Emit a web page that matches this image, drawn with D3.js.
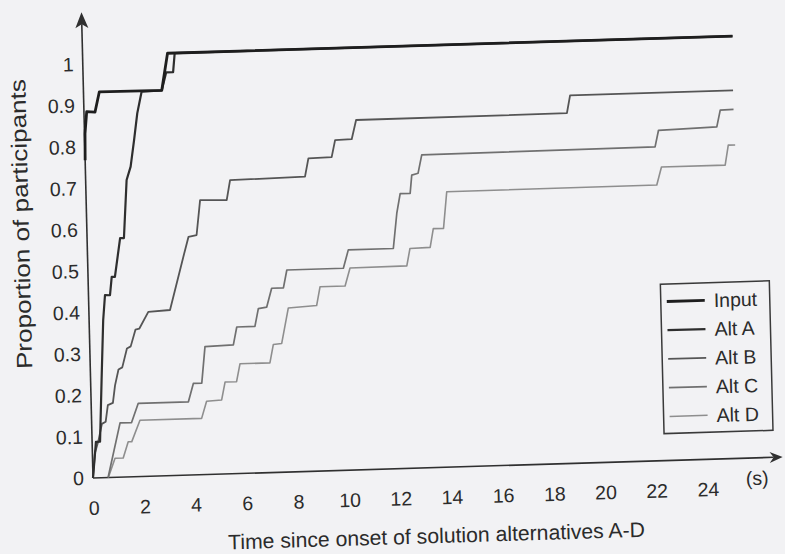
<!DOCTYPE html>
<html><head><meta charset="utf-8">
<script src="https://cdn.jsdelivr.net/npm/d3@7"></script>
<style>
html,body{margin:0;padding:0;background:#f2f2f4;}
svg{display:block;}
text{font-family:"Liberation Sans",Arial,Helvetica,sans-serif;fill:#2b2b2b;}
</style></head><body>
<svg id="c" width="785" height="554"></svg>
<script>
// ---- data (time in s, proportion of participants) ----
const xTicks = [0,2,4,6,8,10,12,14,16,18,20,22,24];
const yTicks = [0,0.1,0.2,0.3,0.4,0.5,0.6,0.7,0.8,0.9,1];
const yTickLabels = ["0","0.1","0.2","0.3","0.4","0.5","0.6","0.7","0.8","0.9","1"];
const seriesNames = ["Input","Alt A","Alt B","Alt C","Alt D"];

const inputData = [[0,0.768],[0.02,0.832],[0.107,0.885],[0.43,0.883],[0.62,0.932],[3.06,0.931],[3.32,1.02],[25.4,1.02]];
const altAData = [[0,0],[0.15,0.087],[0.31,0.087],[0.43,0.236],[0.55,0.38],[0.645,0.441],[0.84,0.44],[0.925,0.484],[1.05,0.484],[1.29,0.577],[1.44,0.577],[1.6,0.717],[1.77,0.749],[1.93,0.813],[2.08,0.877],[2.27,0.929],[3.06,0.931],[3.25,0.974],[3.52,0.974],[3.6,1.02],[25.4,1.02]];
const altBData = [[0,0],[0.1,0.06],[0.25,0.09],[0.4,0.13],[0.55,0.135],[0.65,0.175],[0.85,0.18],[0.95,0.222],[1.1,0.26],[1.25,0.265],[1.45,0.31],[1.6,0.315],[1.8,0.355],[1.95,0.357],[2.32,0.397],[3.17,0.4],[3.74,0.527],[3.96,0.575],[4.28,0.579],[4.45,0.663],[5.49,0.661],[5.64,0.709],[8.57,0.712],[8.72,0.756],[9.63,0.757],[9.78,0.798],[10.43,0.799],[10.62,0.845],[18.86,0.846],[19.0,0.889],[25.37,0.889]];
const altCData = [[0.59,0],[1.11,0.131],[1.56,0.131],[1.84,0.177],[3.8,0.177],[4.01,0.221],[4.34,0.221],[4.5,0.309],[5.61,0.311],[5.76,0.354],[6.47,0.354],[6.62,0.397],[6.95,0.4],[7.16,0.445],[7.62,0.445],[7.77,0.488],[9.98,0.488],[10.19,0.532],[11.95,0.532],[12.12,0.617],[12.27,0.664],[12.66,0.664],[12.74,0.708],[12.99,0.712],[13.15,0.756],[22.27,0.758],[22.42,0.798],[24.7,0.802],[24.85,0.842],[25.37,0.843]];
const altDData = [[0.6,0],[0.88,0.046],[1.2,0.046],[1.41,0.085],[1.55,0.085],[1.89,0.136],[4.3,0.136],[4.51,0.177],[5.1,0.179],[5.25,0.222],[5.7,0.222],[5.85,0.265],[7.02,0.265],[7.17,0.309],[7.5,0.311],[7.79,0.396],[8.9,0.4],[9.05,0.445],[10.03,0.445],[10.24,0.488],[12.46,0.489],[12.6,0.531],[13.39,0.532],[13.53,0.577],[13.93,0.577],[14.09,0.665],[22.3,0.666],[22.5,0.709],[24.99,0.709],[25.13,0.757],[25.4,0.757]];

const seriesData = [inputData, altAData, altBData, altCData, altDData];
const seriesColor = ["#1e1e1e","#2e2e2e","#555555","#707070","#8e8e8e"];
const seriesWidth = [2.8,2.2,1.8,1.7,1.6];

// ---- layout ----
const ox = 93, oy = 478;
const svg = d3.select("#c");
svg.append("rect").attr("width",785).attr("height",554).attr("fill","#f2f2f4");
const g = svg.append("g")
  .attr("transform",`translate(${ox},${oy}) matrix(0.9995,-0.0304,0.0247,0.9997,0,0) translate(${-ox},${-oy})`);

const x = d3.scaleLinear().domain([0,24]).range([ox, ox + 614.4]);
const y = d3.scaleLinear().domain([0,1]).range([oy, oy - 414]);

// y axis labels
const ya = g.append("g").attr("transform",`translate(${ox},0)`)
  .call(d3.axisLeft(y).tickValues(yTicks).tickSize(0).tickPadding(9).tickFormat((d,i)=>yTickLabels[i]));
ya.select(".domain").remove();
ya.attr("font-family",null).attr("font-size",null);
ya.selectAll("text").attr("font-size","19.5px").attr("fill","#2b2b2b");

// x axis labels
const xa = g.append("g").attr("transform",`translate(0,${oy})`)
  .call(d3.axisBottom(x).tickValues(xTicks).tickSize(0).tickPadding(23));
xa.select(".domain").remove();
xa.attr("font-family",null).attr("font-size",null);
xa.selectAll("text").attr("font-size","19.5px").attr("fill","#2b2b2b");

// axis lines with arrowheads
g.append("line").attr("x1",ox).attr("y1",oy).attr("x2",ox).attr("y2",24)
  .attr("stroke","#303030").attr("stroke-width",1.6);
g.append("line").attr("x1",ox).attr("y1",oy).attr("x2",774).attr("y2",oy)
  .attr("stroke","#303030").attr("stroke-width",1.6);
g.append("path").attr("d",`M${ox},12 L${ox+6.5},28 L${ox},24 L${ox-6.5},28 Z`).attr("fill","#303030");
g.append("path").attr("d",`M783,${oy} L770,${oy-5.5} L774,${oy} L770,${oy+5.5} Z`).attr("fill","#303030");

g.append("text").attr("x",757).attr("y",505).attr("text-anchor","middle")
  .attr("font-size","19.5px").text("(s)");

// titles
g.append("text").attr("x",435).attr("y",553.5).attr("text-anchor","middle")
  .attr("font-size","21px").attr("textLength",417).attr("lengthAdjust","spacingAndGlyphs")
  .text("Time since onset of solution alternatives A-D");
g.append("text").attr("transform","translate(35,222) rotate(-90)").attr("text-anchor","middle")
  .attr("font-size","22px").attr("textLength",290).attr("lengthAdjust","spacingAndGlyphs")
  .text("Proportion of participants");

// curves
const line = d3.line().x(d=>x(d[0])).y(d=>y(d[1]));
for (let i = seriesData.length - 1; i >= 0; i--) {
  g.append("path").datum(seriesData[i]).attr("d",line)
    .attr("fill","none").attr("stroke",seriesColor[i]).attr("stroke-width",seriesWidth[i])
    .attr("stroke-linejoin","round");
}

// legend
const lg = g.append("g");
lg.append("rect").attr("x",665).attr("y",301.5).attr("width",109).attr("height",149.5)
  .attr("fill","#f2f2f4").attr("stroke","#3a3a3a").attr("stroke-width",1.5);
seriesNames.forEach((nm,i)=>{
  const yy = 319 + i*28.75;
  lg.append("line").attr("x1",671).attr("x2",709).attr("y1",yy).attr("y2",yy)
    .attr("stroke",seriesColor[i]).attr("stroke-width",seriesWidth[i]);
  lg.append("text").attr("x",718).attr("y",yy).attr("dy","0.36em")
    .attr("font-size","19.5px").text(nm);
});
</script>
</body></html>
